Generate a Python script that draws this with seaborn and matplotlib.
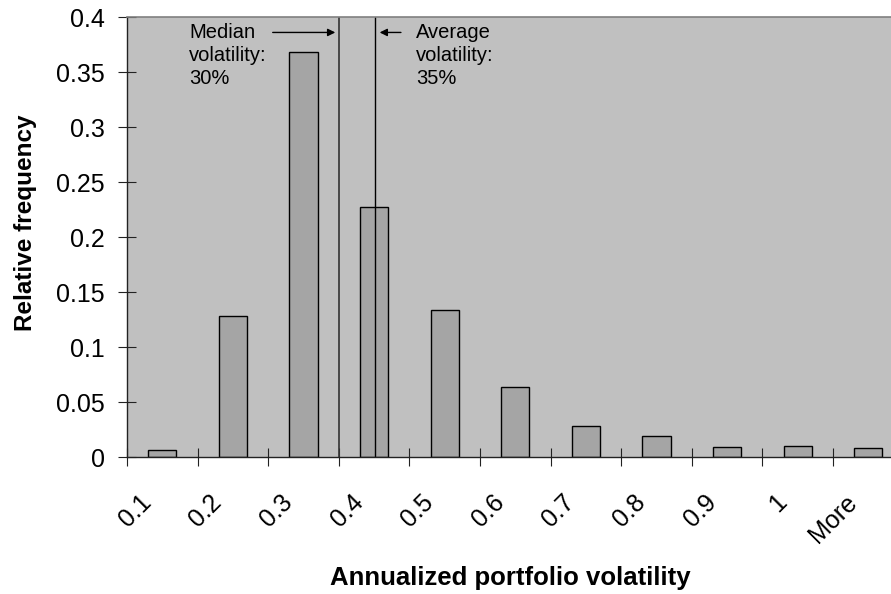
import numpy as np
import pandas as pd
import matplotlib
matplotlib.use("Agg")
import matplotlib.pyplot as plt
import seaborn as sns

# data
bins = ['0.1', '0.2', '0.3', '0.4', '0.5', '0.6', '0.7', '0.8', '0.9', '1', 'More']
rel_freq = [0.006, 0.128, 0.368, 0.227, 0.134, 0.064, 0.028, 0.019, 0.009, 0.010, 0.008]
yticks = [0, 0.05, 0.1, 0.15, 0.2, 0.25, 0.3, 0.35, 0.4]
ytick_labels = ['0', '0.05', '0.1', '0.15', '0.2', '0.25', '0.3', '0.35', '0.4']

# median sits on the 0.3/0.4 boundary, average near the 0.4 bar
median_pos = 2.5
average_pos = 3.02

df = pd.DataFrame({'bin': bins, 'freq': rel_freq})

sns.set_style('white')
plt.rcParams['font.family'] = ['Liberation Sans', 'DejaVu Sans']
plt.rcParams['text.color'] = 'black'
plt.rcParams['axes.labelcolor'] = 'black'
plt.rcParams['xtick.color'] = 'black'
plt.rcParams['ytick.color'] = 'black'

fig = plt.figure(figsize=(8.91, 5.94), dpi=100)
ax = fig.add_axes([0.1425, 0.2306, 0.8716, 0.7407])
ax.set_facecolor('#C0C0C0')

sns.barplot(data=df, x='bin', y='freq', order=bins, color='#A5A5A5',
            saturation=1, width=0.4, edgecolor='black', linewidth=1, ax=ax)

ax.set_xlim(-0.5, len(bins) - 0.5)
ax.set_ylim(0, 0.4)

# ticks on bin boundaries, labels slightly left of bin centres (Excel style)
bounds = np.arange(len(bins) + 1) - 0.5
ax.set_xticks(bounds, [''] * len(bounds))
ax.set_xticks(np.arange(len(bins)) - 0.21, bins, minor=True)
ax.tick_params(axis='x', which='major', bottom=True, direction='inout',
               length=12.5, width=0.8, color='#222222')
ax.tick_params(axis='x', which='minor', bottom=True, length=0, pad=30, labelsize=18)
for lab in ax.get_xticklabels(minor=True):
    lab.set_rotation(45)
    lab.set_ha('right')
    lab.set_va('center')
    lab.set_rotation_mode('anchor')

ax.set_yticks(yticks, ytick_labels)
ax.tick_params(axis='y', left=True, direction='inout', length=13, width=0.8,
               color='#222222', pad=9.4, labelsize=18)

for side in ['left', 'bottom']:
    ax.spines[side].set_color('#222222')
    ax.spines[side].set_linewidth(1)
ax.spines['top'].set_color('#808080')
ax.spines['top'].set_linewidth(1.2)
ax.spines['right'].set_visible(False)

ax.axvline(median_pos, color='#333333', lw=1.2)
ax.axvline(average_pos, color='black', lw=1)

ax.annotate('', xy=(2.49, 0.386), xytext=(1.525, 0.386),
            arrowprops=dict(arrowstyle='-|>', color='black', lw=1, mutation_scale=11))
ax.annotate('', xy=(3.04, 0.386), xytext=(3.42, 0.386),
            arrowprops=dict(arrowstyle='-|>', color='black', lw=1, mutation_scale=11))
ax.text(0.378, 0.395, 'Median\nvolatility:\n30%', fontsize=14.5, va='top', ha='left', linespacing=1.27)
ax.text(3.60, 0.395, 'Average\nvolatility:\n35%', fontsize=14.5, va='top', ha='left', linespacing=1.27)

ax.set_xlabel('Annualized portfolio volatility', fontsize=18.5, fontweight='bold')
ax.set_ylabel('Relative frequency', fontsize=17.5, fontweight='bold')
ax.xaxis.set_label_coords(0.4936, -0.248)
ax.yaxis.set_label_coords(-0.116, 0.532)

fig.savefig('out.png', dpi=100)
